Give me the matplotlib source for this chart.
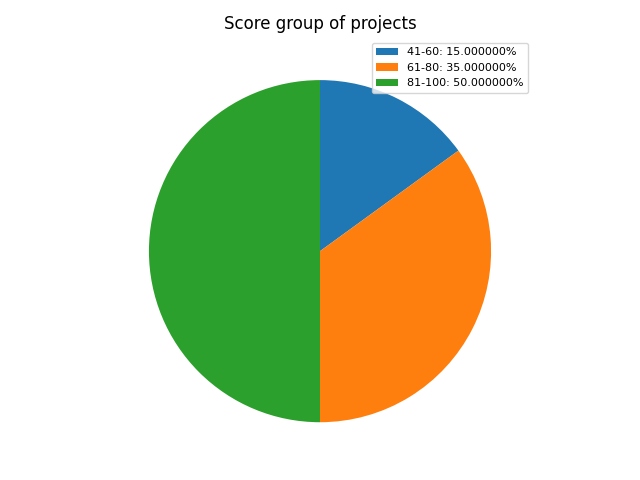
import matplotlib
matplotlib.use('Agg')
import matplotlib.pyplot as plt

groups = ['41-60', '61-80', '81-100']
shares = [15.0, 35.0, 50.0]

labels = ['{}: {:f}%'.format(g, s) for g, s in zip(groups, shares)]

fig, ax = plt.subplots(figsize=(6.4, 4.8), dpi=100)
wedges, _ = ax.pie(shares, startangle=90, counterclock=False)
ax.legend(wedges, labels, loc='upper right', fontsize=8)
ax.set_title('Score group of projects')
plt.tight_layout()
plt.savefig('out.png')
